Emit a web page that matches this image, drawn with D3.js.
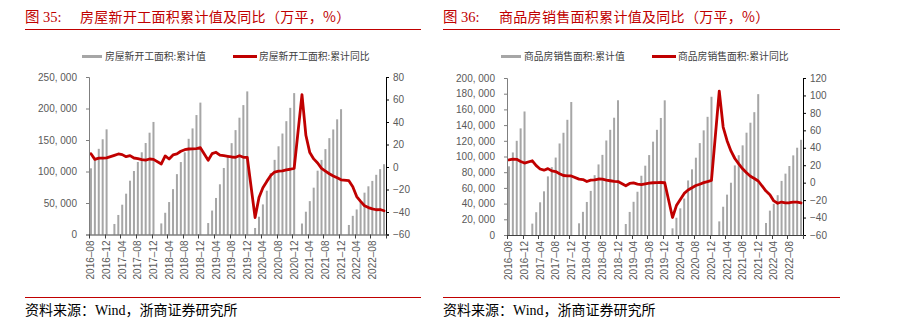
<!DOCTYPE html>
<html>
<head>
<meta charset="utf-8">
<script src="https://cdn.jsdelivr.net/npm/d3@7/dist/d3.min.js"></script>
<style>
  html, body { margin: 0; padding: 0; background: #fff; }
  svg { display: block; }
</style>
</head>
<body>
<svg id="chart" width="898" height="329"></svg>
<script>
// Monthly categories, 2016-08 .. 2022-11 (January has no published figure)
const months = d3.timeMonth.range(new Date(2016, 7, 1), new Date(2022, 11, 1))
  .map(d3.timeFormat("%Y-%m"));
const tickLabels = ["2016-08","2016-12","2017-04","2017-08","2017-12","2018-04","2018-08",
  "2018-12","2019-04","2019-08","2019-12","2020-04","2020-08","2020-12","2021-04",
  "2021-08","2021-12","2022-04","2022-08"];

// 房屋新开工面积: 累计值 (万平)
const startsCum = [
  105062, 119750, 136000, 151178, 166928,
  null, 16700, 31000, 47300, 64800, 85400, 100800, 115100, 130500, 145200, 161600, 178650,
  null, 17600, 34500, 51500, 72000, 95800, 115000, 130400, 151900, 168400, 189600, 209342,
  null, 18200, 38000, 58000, 79700, 105600, 123600, 145000, 165700, 185400, 205400, 227154,
  null, 10369, 28203, 47768, 69533, 97536, 118526, 140010, 160283, 179894, 201069, 224433,
  null, 17426, 36163, 52973, 74349, 101288, 118394, 135535, 152944, 166736, 182820, 198895,
  null, 15113, 29638, 39739, 51628, 66423, 76517, 85062, 94767, 103722, 111632
];
// 房屋新开工面积: 累计同比 (%)
const startsYoY = [
  11.8, 6.8, 7.9, 7.9, 8.1,
  null, 10.4, 11.6, 11.0, 9.2, 10.1, 8.0, 7.4, 6.5, 6.2, 7.1, 6.8,
  null, 2.7, 9.8, 7.1, 10.7, 11.6, 14.0, 15.4, 16.0, 16.1, 16.4, 17.2,
  null, 6.0, 11.9, 13.1, 10.5, 10.1, 9.5, 8.9, 8.6, 10.0, 8.6, 8.5,
  null, -44.9, -27.2, -18.4, -12.8, -7.6, -4.5, -3.6, -3.4, -2.5, -2.0, -1.2,
  null, 64.3, 28.2, 12.8, 7.2, 3.6, -1.2, -3.6, -6.0, -8.0, -9.6, -11.4,
  null, -12.2, -17.5, -26.3, -30.6, -34.4, -36.1, -37.2, -38.0, -37.8, -38.9
];
// 商品房销售面积: 累计值 (万平)
const salesCum = [
  87489, 105185, 120000, 135829, 157349,
  null, 14500, 29035, 41662, 55643, 74662, 86450, 98644, 116602, 130254, 146754, 169408,
  null, 14900, 29500, 42100, 56200, 76200, 89900, 102100, 120400, 134000, 149400, 171654,
  null, 14000, 29400, 42300, 55100, 75500, 88300, 101800, 118900, 134000, 149100, 171558,
  null, 8475, 21978, 33973, 46430, 69480, 83642, 98486, 117073, 133294, 150551, 176086,
  null, 17363, 36007, 51425, 66587, 88635, 101631, 114193, 130332, 143041, 156463, 179433,
  null, 15300, 31046, 39768, 50738, 68923, 78178, 87890, 101422, 111179, 121250
];
// 商品房销售面积: 累计同比 (%)
const salesYoY = [
  26.1, 26.9, 26.8, 24.3, 22.5,
  null, 25.1, 19.5, 15.7, 14.3, 16.1, 13.5, 12.7, 10.3, 8.2, 7.9, 7.7,
  null, 4.1, 3.6, 1.3, 2.9, 3.3, 4.2, 4.0, 2.9, 2.2, 1.4, 1.3,
  null, -3.6, -0.9, -0.3, -1.6, -2.2, -1.3, -0.6, -0.1, 0.1, 0.2, -0.1,
  null, -39.9, -26.3, -19.3, -12.3, -8.4, -5.8, -3.3, -1.8, 0.0, 1.3, 2.6,
  null, 104.9, 63.8, 48.1, 36.4, 27.7, 21.5, 15.9, 11.3, 7.3, 4.8, 1.9,
  null, -9.6, -13.8, -20.9, -23.6, -22.2, -23.1, -23.0, -22.2, -22.3, -23.3
];

const leftTicks = [0, 50000, 100000, 150000, 200000, 250000];
const leftPctTicks = [-60, -40, -20, 0, 20, 40, 60, 80];
const rightTicks = [0, 20000, 40000, 60000, 80000, 100000, 120000, 140000, 160000, 180000, 200000];
const rightPctTicks = [-60, -40, -20, 0, 20, 40, 60, 80, 100, 120];

const RED = "#c00000";
const BAR = "#a6a6a6";
const LABEL = "#595959";
const SANS = "'Liberation Sans', Arial, 'Noto Sans CJK SC', sans-serif";
const CJK = "'Noto Sans CJK SC', sans-serif";
const SERIF = "'Liberation Serif', 'Times New Roman', 'Noto Sans CJK SC', serif";

const svg = d3.select("#chart");
svg.append("rect").attr("width", 898).attr("height", 329).attr("fill", "#fff");

const fmtNum = v => d3.format(",")(v).replace(",", ", ");

function panel(cfg) {
  const g = svg.append("g");
  const { x0, x1, yTop, yBot } = cfg;

  // Title and its rule
  g.append("text").attr("x", cfg.frameL).attr("y", 22)
    .attr("font-family", SERIF).attr("font-size", 14.5).attr("fill", RED)
    .text(cfg.fig);
  g.append("text").attr("x", cfg.titleX).attr("y", 22)
    .attr("font-family", CJK).attr("font-size", 14).attr("fill", RED)
    .attr("letter-spacing", 0.3)
    .text(cfg.title);
  g.append("line").attr("x1", cfg.frameL).attr("x2", cfg.frameR)
    .attr("y1", 29.5).attr("y2", 29.5).attr("stroke", RED).attr("stroke-width", 1);

  // Source note and its rule
  g.append("line").attr("x1", cfg.frameL).attr("x2", cfg.frameR)
    .attr("y1", 297.5).attr("y2", 297.5).attr("stroke", RED).attr("stroke-width", 1);
  g.append("text").attr("x", cfg.frameL).attr("y", 315)
    .attr("font-family", SERIF).attr("font-size", 14).attr("fill", "#000")
    .text("资料来源：Wind，浙商证券研究所");

  // Scales
  const x = d3.scaleBand().domain(months).range([x0, x1]).padding(0);
  const y = d3.scaleLinear().domain([0, cfg.yMax]).range([yBot, yTop]);
  const y2 = d3.scaleLinear().domain([-60, cfg.pMax]).range([yBot, yTop]);
  const cx = m => x(m) + x.bandwidth() / 2;

  // Bars
  const barW = 2;
  g.append("g").selectAll("rect")
    .data(months.map((m, i) => ({ m, v: cfg.cum[i] })).filter(d => d.v != null))
    .join("rect")
    .attr("x", d => cx(d.m) - barW / 2)
    .attr("width", barW)
    .attr("y", d => y(d.v))
    .attr("height", d => yBot - y(d.v))
    .attr("fill", BAR);

  // YoY line
  const pts = months.map((m, i) => ({ m, v: cfg.yoy[i] })).filter(d => d.v != null);
  g.append("path").datum(pts)
    .attr("fill", "none").attr("stroke", RED).attr("stroke-width", 2.8)
    .attr("stroke-linejoin", "round").attr("stroke-linecap", "round")
    .attr("d", d3.line().x(d => cx(d.m)).y(d => y2(d.v)));

  // Left axis
  const la = g.append("g").attr("transform", `translate(${x0},0)`)
    .call(d3.axisLeft(y).tickValues(cfg.lTicks).tickSize(3).tickPadding(9).tickFormat(fmtNum));
  la.select(".domain").attr("stroke", "#7f7f7f");
  la.selectAll(".tick line").attr("stroke", "#7f7f7f");
  la.selectAll("text").attr("font-family", SANS).attr("font-size", 10).attr("fill", LABEL);

  // Right axis
  const ra = g.append("g").attr("transform", `translate(${x1},0)`)
    .call(d3.axisRight(y2).tickValues(cfg.rTicks).tickSize(3).tickPadding(4)
      .tickFormat(d => d < 0 ? "\u2212" + Math.abs(d) : d));
  ra.select(".domain").attr("stroke", "#000");
  ra.selectAll(".tick line").attr("stroke", "#000");
  ra.selectAll("text").attr("font-family", SANS).attr("font-size", 10).attr("fill", LABEL);

  // Bottom axis
  const ba = g.append("g");
  ba.append("line").attr("x1", x0).attr("x2", x1).attr("y1", yBot + 0.5).attr("y2", yBot + 0.5)
    .attr("stroke", "#404040").attr("stroke-width", 1);
  const tickXs = tickLabels.map(m => x(m)).concat([x1]);
  ba.selectAll("line.t").data(tickXs).join("line").attr("class", "t")
    .attr("x1", d => Math.round(d) + 0.5).attr("x2", d => Math.round(d) + 0.5)
    .attr("y1", yBot).attr("y2", yBot + 4).attr("stroke", "#404040");
  ba.selectAll("text").data(tickLabels).join("text")
    .attr("transform", d => `translate(${cx(d)},${yBot + 6}) rotate(-90)`)
    .attr("text-anchor", "end").attr("dy", "0.35em")
    .attr("font-family", SANS).attr("font-size", 10).attr("fill", LABEL)
    .text(d => d.replace("-", "\u2013"));

  // Legend
  const lg = g.append("g");
  lg.append("rect").attr("x", cfg.lgX).attr("y", 55).attr("width", 20).attr("height", 3).attr("fill", BAR);
  lg.append("text").attr("x", cfg.lgX + 23).attr("y", 56.5).attr("dy", "0.35em")
    .attr("font-family", CJK).attr("font-size", 9.8).attr("fill", "#404040").text(cfg.lg1);
  lg.append("line").attr("x1", cfg.lgX2).attr("x2", cfg.lgX2 + 24).attr("y1", 56.5).attr("y2", 56.5)
    .attr("stroke", RED).attr("stroke-width", 3);
  lg.append("text").attr("x", cfg.lgX2 + 26).attr("y", 56.5).attr("dy", "0.35em")
    .attr("font-family", CJK).attr("font-size", 9.8).attr("fill", "#404040").text(cfg.lg2);
}

panel({
  fig: "图 35:", title: "房屋新开工面积累计值及同比（万平，%）",
  frameL: 25, frameR: 421, titleX: 80,
  x0: 89, x1: 386, yTop: 77, yBot: 234.5, yMax: 250000, pMax: 80,
  cum: startsCum, yoy: startsYoY, lTicks: leftTicks, rTicks: leftPctTicks,
  lgX: 82, lgX2: 233, lg1: "房屋新开工面积:累计值", lg2: "房屋新开工面积:累计同比"
});

panel({
  fig: "图 36:", title: "商品房销售面积累计值及同比（万平，%）",
  frameL: 443, frameR: 840, titleX: 499,
  x0: 507, x1: 803, yTop: 78, yBot: 235, yMax: 200000, pMax: 120,
  cum: salesCum, yoy: salesYoY, lTicks: rightTicks, rTicks: rightPctTicks,
  lgX: 501, lgX2: 652, lg1: "商品房销售面积:累计值", lg2: "商品房销售面积:累计同比"
});
</script>
</body>
</html>
